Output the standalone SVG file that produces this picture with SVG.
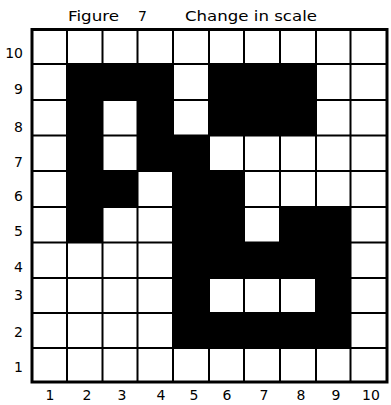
<svg xmlns="http://www.w3.org/2000/svg" width="391" height="405" viewBox="0 0 391 405">
<style>
.t{font-family:"DejaVu Sans","Liberation Sans",sans-serif;font-size:14px;fill:#000}
.c{text-anchor:middle}
.r{text-anchor:end}
.g{stroke:#000;stroke-width:2;fill:none}
.b{stroke:#000;stroke-width:3;fill:none}
.k{fill:#000}
</style>
<rect width="391" height="405" fill="#fff"/>
<text class="t" x="68" y="21" textLength="51" lengthAdjust="spacingAndGlyphs">Figure</text>
<text class="t" x="138" y="21">7</text>
<text class="t" x="185" y="21" textLength="132" lengthAdjust="spacingAndGlyphs">Change in scale</text>
<g id="filled">
<rect class="k" x="67" y="64" width="106" height="36"/>
<rect class="k" x="209" y="64" width="107" height="71.5"/>
<rect class="k" x="67" y="100" width="35.5" height="142.5"/>
<rect class="k" x="137.5" y="100" width="35.5" height="71"/>
<rect class="k" x="173" y="135.5" width="36" height="35.5"/>
<rect class="k" x="102.5" y="171" width="35" height="36"/>
<rect class="k" x="173" y="171" width="71" height="71.5"/>
<rect class="k" x="280" y="207" width="70.5" height="35.5"/>
<rect class="k" x="173" y="242.5" width="177.5" height="35.5"/>
<rect class="k" x="173" y="278" width="36" height="35"/>
<rect class="k" x="316" y="278" width="34.5" height="35"/>
<rect class="k" x="173" y="313" width="177.5" height="35"/>
</g>
<g id="grid">
<path class="g" d="M67 29.5V382M102.5 29.5V382M137.5 29.5V382M173 29.5V382M209 29.5V382M244 29.5V382M280 29.5V382M316 29.5V382M350.5 29.5V382"/>
<path class="g" d="M32 64H387M32 100H387M32 135.5H387M32 171H387M32 207H387M32 242.5H387M32 278H387M32 313H387M32 348H387"/>
<rect class="b" x="32" y="29.5" width="355" height="352.5"/>
</g>
<g id="row-labels">
<text class="t r" x="23" y="58">10</text>
<text class="t r" x="23" y="94">9</text>
<text class="t r" x="23" y="132">8</text>
<text class="t r" x="23" y="167">7</text>
<text class="t r" x="23" y="201">6</text>
<text class="t r" x="23" y="236">5</text>
<text class="t r" x="23" y="272">4</text>
<text class="t r" x="23" y="300">3</text>
<text class="t r" x="23" y="337">2</text>
<text class="t r" x="23" y="372">1</text>
</g>
<g id="col-labels">
<text class="t c" x="50" y="400">1</text>
<text class="t c" x="87" y="400">2</text>
<text class="t c" x="122" y="400">3</text>
<text class="t c" x="161" y="400">4</text>
<text class="t c" x="194" y="400">5</text>
<text class="t c" x="227" y="400">6</text>
<text class="t c" x="264" y="400">7</text>
<text class="t c" x="301" y="400">8</text>
<text class="t c" x="336" y="400">9</text>
<text class="t c" x="371" y="400">10</text>
</g>
</svg>
